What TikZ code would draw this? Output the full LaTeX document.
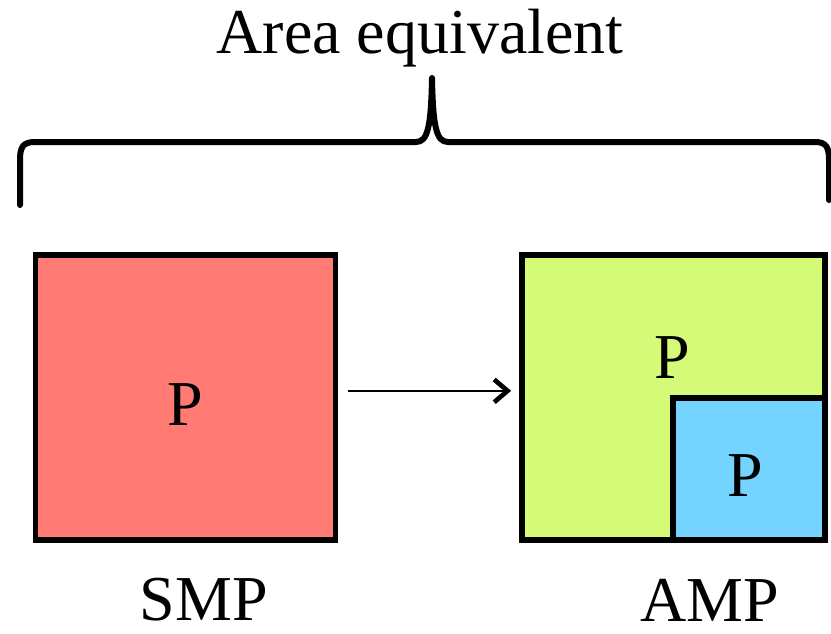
\documentclass[tikz,border=0pt]{standalone}
\usepackage{fontspec,xcolor,tikz}
\setmainfont{Liberation Serif}
\usetikzlibrary{arrows.meta}
\definecolor{ink}{HTML}{000000}
\definecolor{smpfill}{HTML}{FF7B74}
\definecolor{ampfill}{HTML}{D5FA77}
\definecolor{corefill}{HTML}{75D4FF}
\newcommand{\chiplbl}{\fontsize{48}{56}\selectfont}

\begin{document}
\begin{tikzpicture}[x=0.75pt,y=-0.75pt,
  box/.style={draw=ink,line width=4.3pt,inner sep=0},
  lbl/.style={inner sep=0,text=ink,font=\chiplbl}]
\useasboundingbox (0,0) rectangle (831,633);
\fill[white] (0,0) rectangle (831,633);
% brace over both chips
\draw[ink,line width=4.5pt,line cap=round,line join=round]
  (20,205) -- (20,160) .. controls (20,147) and (23,142) .. (35,142)
  -- (416,142) .. controls (428,142) and (431,126) .. (432,78)
  .. controls (433,126) and (436,142) .. (448,142)
  -- (815,142) .. controls (826,142) and (829,147) .. (829,160) -- (829,200);
\node[lbl] (title) at (420,38) {Area equivalent};
% symmetric chip
\node[box,fill=smpfill,minimum width=225pt,minimum height=213.75pt] (smp) at (185.5,397.5) {};
\node[lbl] (psmp) at (185,405) {P};
% asymmetric chip with one small core
\node[box,fill=ampfill,minimum width=227.25pt,minimum height=213.75pt] (amp) at (673.5,397.5) {};
\node[box,fill=corefill,minimum width=114pt,minimum height=106.5pt,anchor=south east] (core) at (amp.south east) {};
\node[lbl] (pbig) at (672,358) {P};
\node[lbl] (psmall) at (745,476) {P};
\draw[ink,line width=1.8pt,-{Straight Barb[length=10pt,width=17pt,line width=3.5pt]},
  shorten <=7pt,shorten >=6pt] ([yshift=5pt]smp.east) -- ([yshift=5pt]amp.west);
\node[lbl] (smplbl) at (204,600) {SMP};
\node[lbl] (amplbl) at (710,600) {AMP};
\end{tikzpicture}
\end{document}
